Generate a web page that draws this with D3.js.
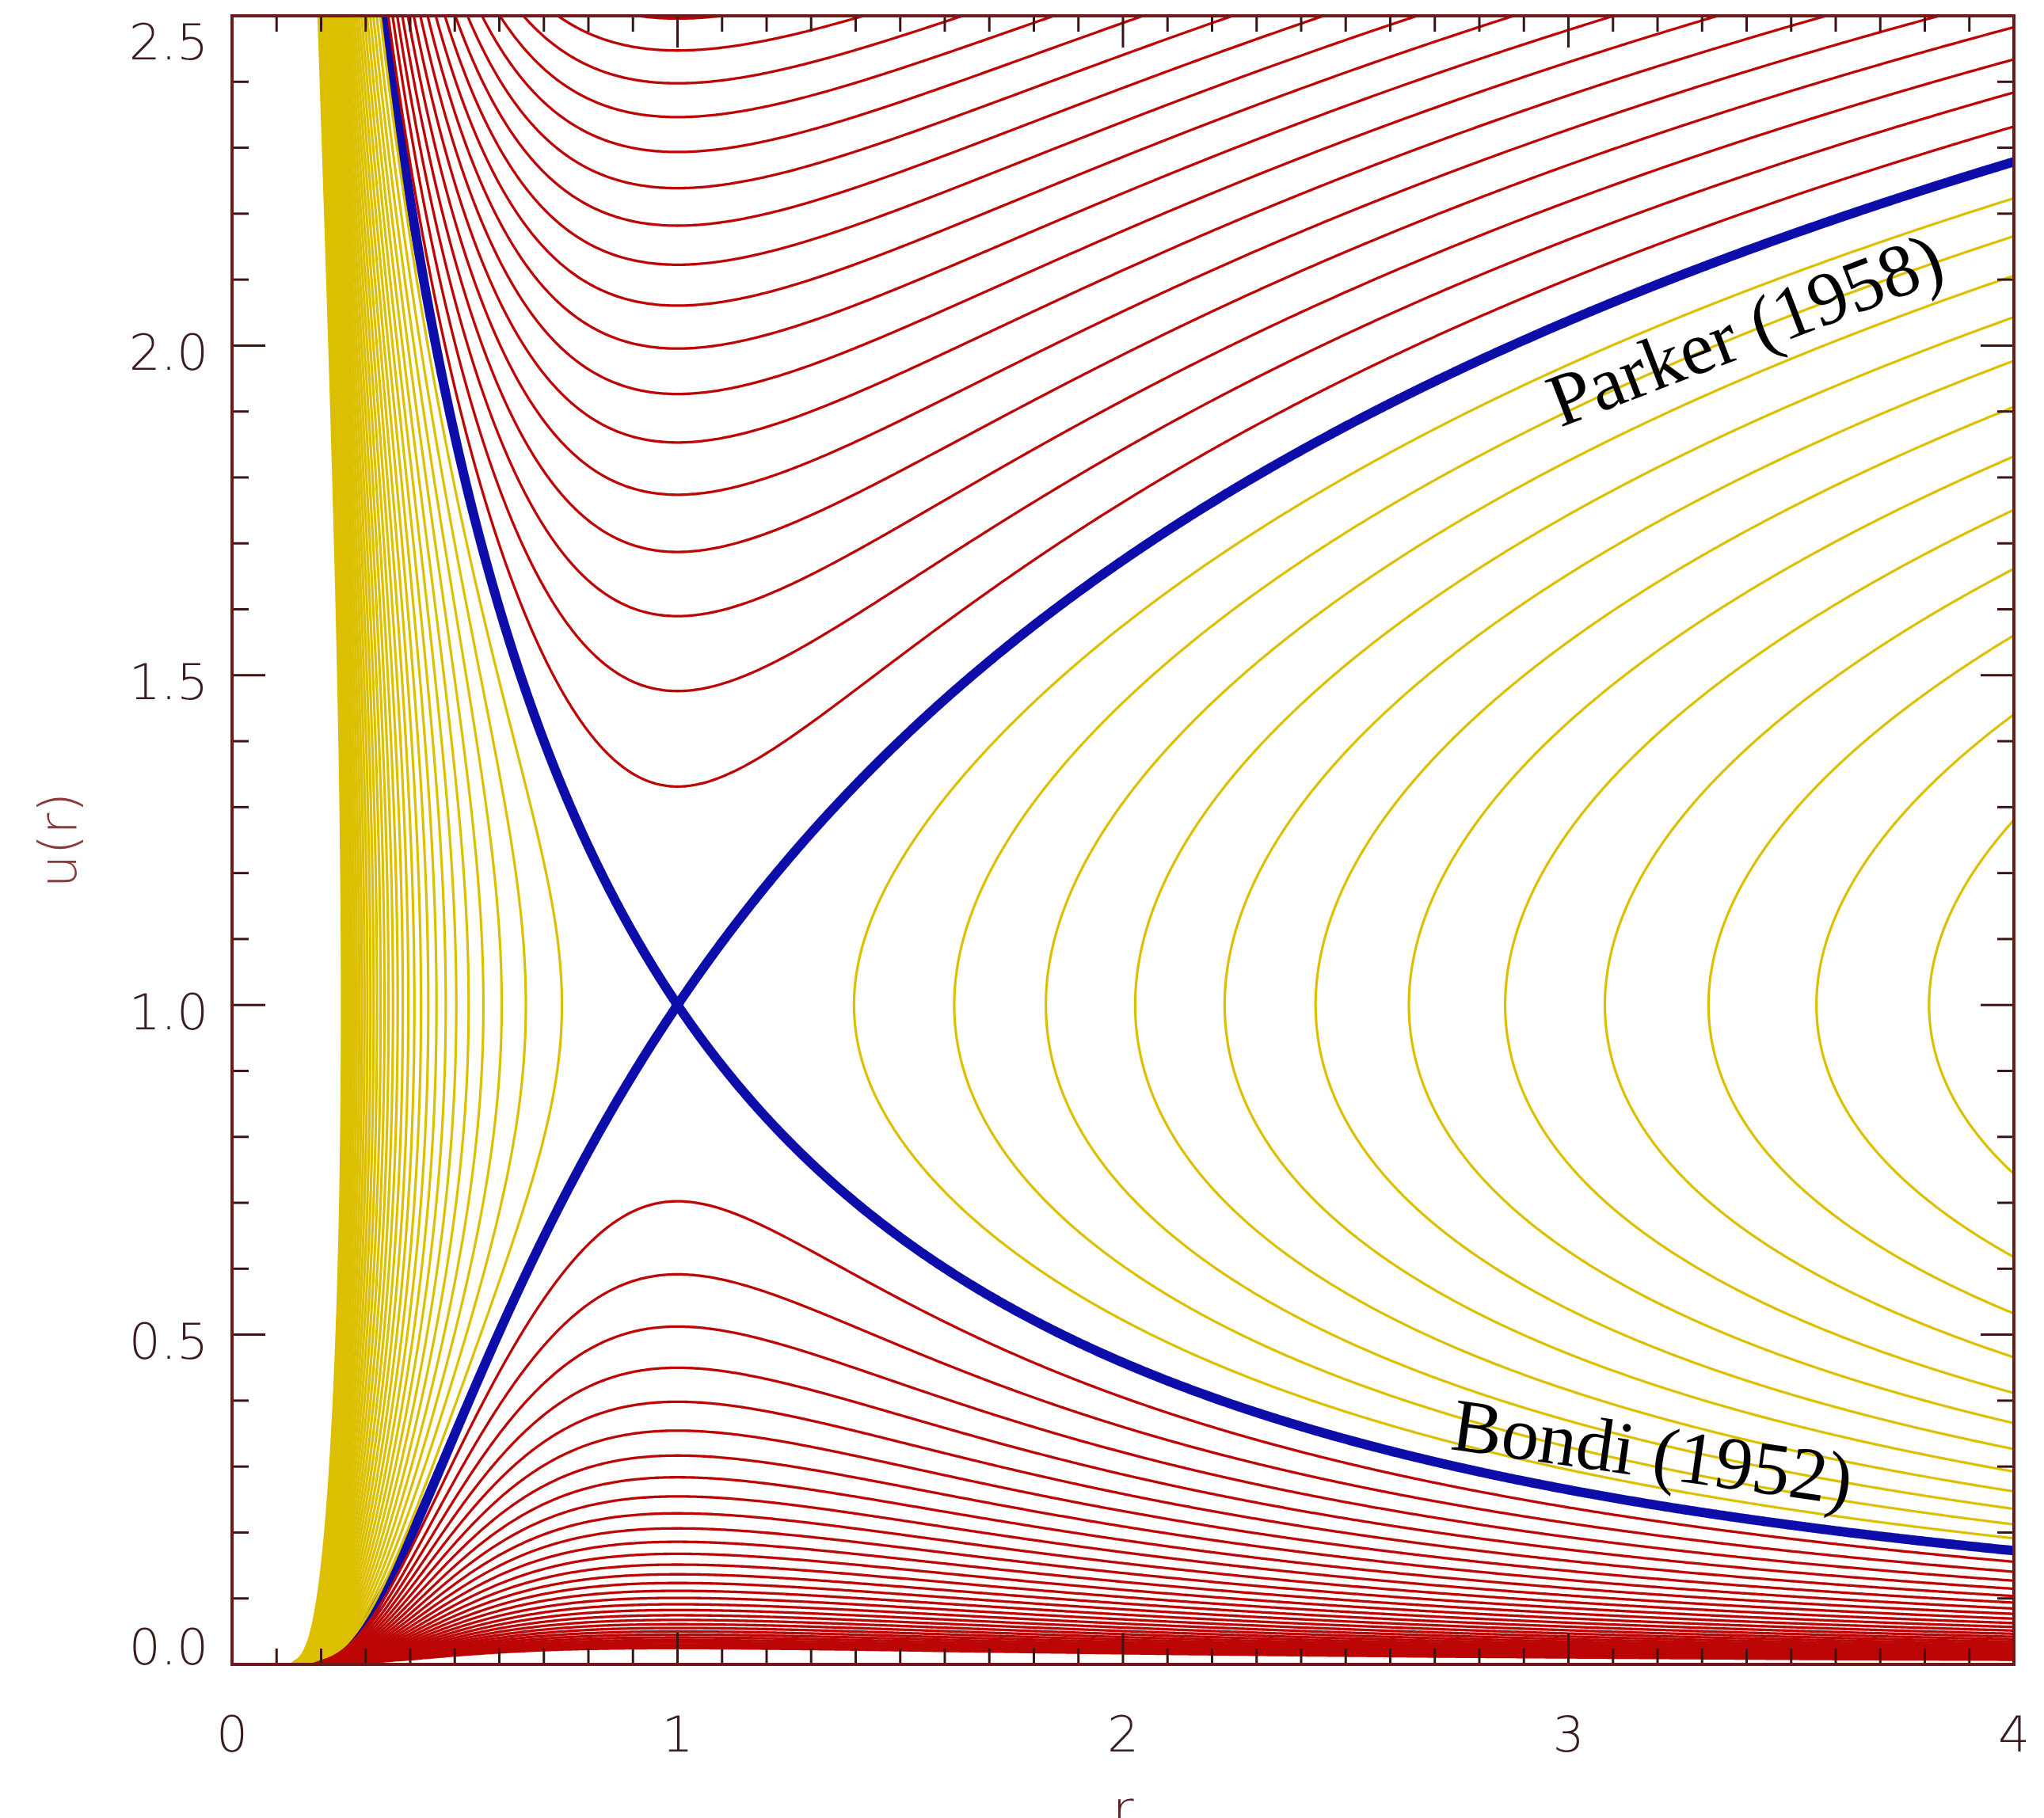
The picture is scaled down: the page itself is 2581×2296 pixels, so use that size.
<!DOCTYPE html>
<html>
<head>
<meta charset="utf-8">
<script src="https://cdn.jsdelivr.net/npm/d3@7"></script>
<style>
body { margin: 0; background: #ffffff; }
svg { display: block; }
</style>
</head>
<body>
<svg id="chart"></svg>
<script>
// contour levels of C(r,u) = u^2 - ln(u^2) - 4 ln r - 4/r
// (critical level through the sonic point r=1, u=1 is -3)
var redLevels = [-2.8, -2.6, -2.4, -2.2, -2.0, -1.8, -1.6, -1.4, -1.2, -1.0, -0.8,
    -0.6, -0.4, -0.2, 0.0, 0.2, 0.4, 0.6, 0.8, 1.0, 1.2, 1.4, 1.6, 1.8, 2.0,
    2.2, 2.4, 2.6, 2.8, 3.0, 3.2, 3.4];
var yellowLevels = [-3.2, -3.4, -3.6, -3.8, -4.0, -4.2, -4.4, -4.6, -4.8, -5.0,
    -5.2, -5.4, -5.6, -5.8, -6.0, -6.2, -6.4, -6.6, -6.8, -7.0, -7.2, -7.4,
    -7.6, -7.8, -8.0, -8.2, -8.4, -8.6, -8.8, -9.0, -9.2, -9.4, -9.6];
var blueLevels = [-3.0];

var xTickValues = [0, 1, 2, 3, 4];
var xTickLabels = ["0", "1", "2", "3", "4"];
var yTickValues = [0.0, 0.5, 1.0, 1.5, 2.0, 2.5];
var yTickLabels = ["0.0", "0.5", "1.0", "1.5", "2.0", "2.5"];

var annotations = ["Parker (1958)", "Bondi (1952)"];
var xTitle = "r";
var yTitle = "u(r)";

var width = 2581, height = 2296;
var plotLeft = 293, plotRight = 2543, plotTop = 20, plotBottom = 2102;

var svg = d3.select("#chart")
    .attr("width", width)
    .attr("height", height);

svg.append("rect")
    .attr("width", width)
    .attr("height", height)
    .attr("fill", "#ffffff");

var x = d3.scaleLinear().domain([0, 4]).range([plotLeft, plotRight]);
var y = d3.scaleLinear().domain([0, 2.5]).range([plotBottom, plotTop]);

// sample the Parker function on a grid a bit larger than the plot
var r0 = -0.02, dr = 0.005, nx = 810;
var uTop = 2.52, du = 0.004, ny = 636;

function parker(r, u) {
    r = Math.max(r, 0.001);
    u = Math.max(u, 0.002);
    return u * u - Math.log(u * u) - 4 * Math.log(r) - 4 / r;
}

var values = new Float64Array(nx * ny);
for (var j = 0; j < ny; j++) {
    for (var i = 0; i < nx; i++) {
        values[j * nx + i] = parker(r0 + i * dr, uTop - j * du);
    }
}

var path = d3.geoPath(d3.geoTransform({
    point: function(gx, gy) {
        this.stream.point(x(r0 + (gx - 0.5) * dr), y(uTop - (gy - 0.5) * du));
    }
}));

svg.append("clipPath")
    .attr("id", "plot-clip")
    .append("rect")
    .attr("x", plotLeft)
    .attr("y", plotTop)
    .attr("width", plotRight - plotLeft)
    .attr("height", plotBottom - plotTop);

var plot = svg.append("g").attr("clip-path", "url(#plot-clip)");

function drawLevels(levels, color, lineWidth) {
    var contours = d3.contours()
        .size([nx, ny])
        .thresholds(levels)(values);

    plot.append("g")
        .selectAll("path")
        .data(contours)
        .enter()
        .append("path")
        .attr("d", path)
        .attr("fill", "none")
        .attr("stroke", color)
        .attr("stroke-width", lineWidth)
        .attr("stroke-linejoin", "round");
}

// the critical solutions go first, the dense families cover them near the edges
drawLevels(blueLevels, "#0d0daa", 12);
drawLevels(yellowLevels, "#dcc000", 3.2);
drawLevels(redLevels, "#bc0606", 3.3);

// frame and ticks
var axisColor = "#6e1a1a";
var ticks = svg.append("g")
    .attr("stroke", "#3c1414")
    .attr("stroke-width", 3);

x.ticks(40).forEach(function(v) {
    var len = xTickValues.indexOf(v) >= 0 ? 40 : 20;
    ticks.append("line").attr("x1", x(v)).attr("x2", x(v)).attr("y1", plotBottom).attr("y2", plotBottom - len);
    ticks.append("line").attr("x1", x(v)).attr("x2", x(v)).attr("y1", plotTop).attr("y2", plotTop + len);
});

y.ticks(25).forEach(function(v) {
    var major = yTickValues.some(function(t) { return Math.abs(t - v) < 1e-9; });
    var len = major ? 42 : 21;
    ticks.append("line").attr("x1", plotLeft).attr("x2", plotLeft + len).attr("y1", y(v)).attr("y2", y(v));
    ticks.append("line").attr("x1", plotRight).attr("x2", plotRight - len).attr("y1", y(v)).attr("y2", y(v));
});

svg.append("rect")
    .attr("x", plotLeft)
    .attr("y", plotTop)
    .attr("width", plotRight - plotLeft)
    .attr("height", plotBottom - plotTop)
    .attr("fill", "none")
    .attr("stroke", axisColor)
    .attr("stroke-width", 4);

// tick labels
var labelFont = "'DejaVu Sans', sans-serif";

svg.append("g")
    .selectAll("text")
    .data(xTickValues)
    .enter()
    .append("text")
    .attr("x", function(d) { return x(d); })
    .attr("y", plotBottom + 110)
    .attr("text-anchor", "middle")
    .attr("font-family", labelFont)
    .attr("font-weight", 200)
    .attr("font-size", 63)
    .attr("fill", "#3a1c1c")
    .text(function(d, i) { return xTickLabels[i]; });

svg.append("g")
    .selectAll("text")
    .data(yTickValues)
    .enter()
    .append("text")
    .attr("x", plotLeft - 30)
    .attr("y", function(d, i) {
        var cy = y(d) + 8;
        if (i === 0) cy = plotBottom - 23;
        if (i === yTickValues.length - 1) cy = plotTop + 32;
        return cy;
    })
    .attr("dy", "0.36em")
    .attr("text-anchor", "end")
    .attr("font-family", labelFont)
    .attr("font-weight", 200)
    .attr("font-size", 63)
    .attr("fill", "#3a1c1c")
    .text(function(d, i) { return yTickLabels[i]; });

// axis titles
svg.append("text")
    .attr("transform", "translate(96," + y(1.25) + ") rotate(-90)")
    .attr("text-anchor", "middle")
    .attr("font-family", labelFont)
    .attr("font-weight", 200)
    .attr("font-size", 66)
    .attr("fill", "#8a3a3a")
    .text(yTitle);

svg.append("text")
    .attr("x", x(2))
    .attr("y", height + 12)
    .attr("text-anchor", "middle")
    .attr("font-family", labelFont)
    .attr("font-weight", 200)
    .attr("font-size", 66)
    .attr("fill", "#5a2222")
    .text(xTitle);

// curve names
var serif = "'Liberation Serif', 'DejaVu Serif', serif";
svg.append("text")
    .attr("transform", "translate(1970,540) rotate(-21)")
    .attr("font-family", serif)
    .attr("font-size", 95)
    .attr("fill", "#000000")
    .text(annotations[0]);

svg.append("text")
    .attr("transform", "translate(1830,1830) rotate(8)")
    .attr("font-family", serif)
    .attr("font-size", 95)
    .attr("fill", "#000000")
    .text(annotations[1]);
</script>
</body>
</html>
